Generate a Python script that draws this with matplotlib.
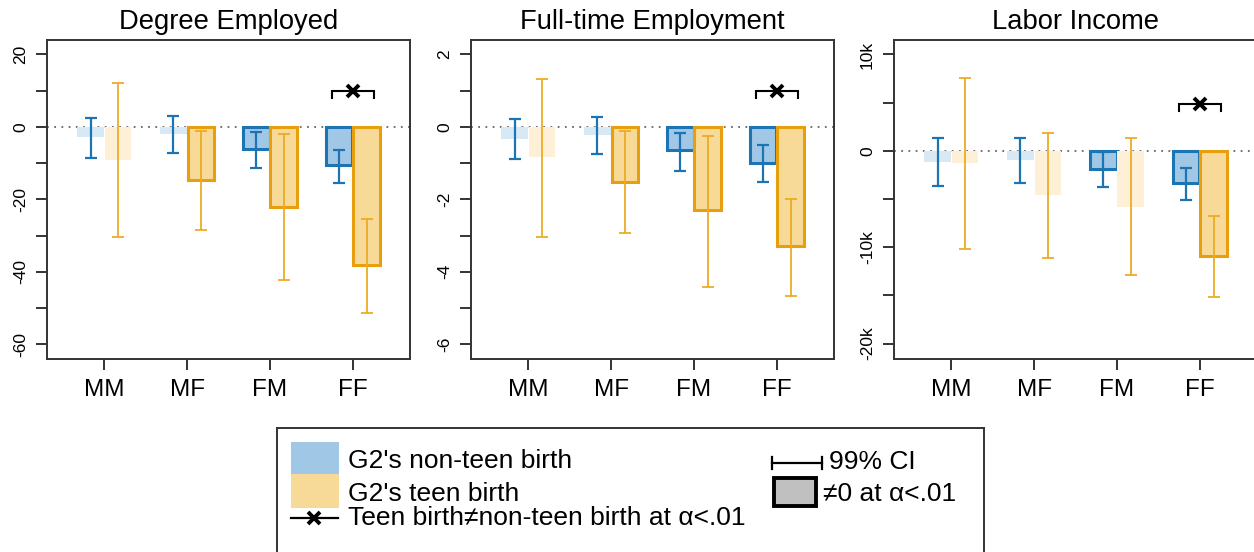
import matplotlib
matplotlib.use("Agg")
import matplotlib.pyplot as plt
import numpy as np
from matplotlib.patches import Rectangle

plt.rcParams['font.family'] = ['Liberation Sans', 'DejaVu Sans']
plt.rcParams['axes.unicode_minus'] = False

# ---------------- data ----------------
categories = ['MM', 'MF', 'FM', 'FF']
titles = ['Degree Employed', 'Full-time Employment', 'Labor Income']

# Degree Employed
deg_nonteen = [-2.85, -1.9, -6.2, -10.5]
deg_nonteen_lo = [-8.5, -7.3, -11.4, -15.6]
deg_nonteen_hi = [2.4, 3.1, -1.5, -6.3]
deg_teen = [-9.1, -14.6, -22.0, -38.1]
deg_teen_lo = [-30.3, -28.4, -42.2, -51.3]
deg_teen_hi = [12.05, -1.0, -1.9, -25.4]

# Full-time Employment
ft_nonteen = [-0.34, -0.22, -0.65, -1.01]
ft_nonteen_lo = [-0.89, -0.76, -1.22, -1.53]
ft_nonteen_hi = [0.22, 0.28, -0.16, -0.51]
ft_teen = [-0.84, -1.51, -2.29, -3.30]
ft_teen_lo = [-3.03, -2.94, -4.41, -4.66]
ft_teen_hi = [1.32, -0.11, -0.24, -1.99]

# Labor Income
inc_nonteen = [-1200, -1000, -1900, -3300]
inc_nonteen_lo = [-3600, -3300, -3800, -5100]
inc_nonteen_hi = [1300, 1300, -100, -1800]
inc_teen = [-1300, -4600, -5800, -10900]
inc_teen_lo = [-10200, -11100, -12900, -15200]
inc_teen_hi = [7600, 1900, 1300, -6800]

# teen vs non-teen difference significant
diff_sig = [False, False, False, True]
bracket_level = [10, 1.0, 4900]

# axis settings
ylims = [(-64.1, 24.0), (-6.41, 2.40), (-21600, 11500)]
ytick_vals = [[20, 10, 0, -10, -20, -30, -40, -50, -60],
              [2, 1, 0, -1, -2, -3, -4, -5, -6],
              [10000, 5000, 0, -5000, -10000, -15000, -20000]]
ytick_labels = [['20', '', '0', '', '-20', '', '-40', '', '-60'],
                ['2', '', '0', '', '-2', '', '-4', '', '-6'],
                ['10k', '', '0', '', '-10k', '', '-20k']]

panels = [
    (deg_nonteen, deg_nonteen_lo, deg_nonteen_hi, deg_teen, deg_teen_lo, deg_teen_hi),
    (ft_nonteen, ft_nonteen_lo, ft_nonteen_hi, ft_teen, ft_teen_lo, ft_teen_hi),
    (inc_nonteen, inc_nonteen_lo, inc_nonteen_hi, inc_teen, inc_teen_lo, inc_teen_hi),
]

# ---------------- style ----------------
BLUE_EDGE = '#1c75b2'
BLUE_FILL = '#a0c8e6'
BLUE_FADE = '#d8e9f6'
ORANGE_EDGE = '#e89f0e'
ORANGE_FILL = '#f8da98'
ORANGE_FADE = '#fdf0d6'
ORANGE_ERR = '#eeab25'
AX_COL = '#333333'

W, H = 1254, 552
fig = plt.figure(figsize=(W / 100, H / 100), dpi=100)

panel_left = [47, 471, 894]
panel_w = [363, 363, 372]
px_per_unit = 82.9
ax_top, ax_bot = 40, 359

width = 0.32
off = 0.165
x = np.arange(1, len(categories) + 1)

for i, (nt, ntlo, nthi, tt, ttlo, tthi) in enumerate(panels):
    ax = fig.add_axes([panel_left[i] / W, 1 - ax_bot / H, panel_w[i] / W, (ax_bot - ax_top) / H])
    nt = np.array(nt, float); ntlo = np.array(ntlo, float); nthi = np.array(nthi, float)
    tt = np.array(tt, float); ttlo = np.array(ttlo, float); tthi = np.array(tthi, float)
    nt_sig = (nthi < 0) | (ntlo > 0)
    tt_sig = (tthi < 0) | (ttlo > 0)

    ax.axhline(0, color='#666666', lw=1.3, ls=(0, (1, 3)), zorder=1)

    for j in range(len(categories)):
        if nt_sig[j]:
            ax.bar(x[j] - off, nt[j], width, color=BLUE_FILL, edgecolor=BLUE_EDGE, linewidth=2.2, zorder=2)
        else:
            ax.bar(x[j] - off, nt[j], width, color=BLUE_FADE, linewidth=0, zorder=2)
        if tt_sig[j]:
            ax.bar(x[j] + off, tt[j], width, color=ORANGE_FILL, edgecolor=ORANGE_EDGE, linewidth=2.2, zorder=2)
        else:
            ax.bar(x[j] + off, tt[j], width, color=ORANGE_FADE, linewidth=0, zorder=2)

    ax.errorbar(x - off, nt, yerr=[nt - ntlo, nthi - nt], fmt='none', ecolor=BLUE_EDGE,
                elinewidth=1.6, capsize=4.3, capthick=1.6, zorder=3)
    ax.errorbar(x + off, tt, yerr=[tt - ttlo, tthi - tt], fmt='none', ecolor=ORANGE_ERR,
                elinewidth=1.3, capsize=4.3, capthick=1.3, zorder=3)

    yr = ylims[i][1] - ylims[i][0]
    for j in range(len(categories)):
        if diff_sig[j]:
            yb = bracket_level[i]
            d = 0.022 * yr
            ax.plot([x[j] - 0.255, x[j] - 0.255, x[j] + 0.255, x[j] + 0.255],
                    [yb - d, yb, yb, yb - d], color='black', lw=1.5, zorder=4,
                    solid_joinstyle='miter')
            ax.plot([x[j]], [yb], marker='x', color='black', ms=9, mew=2.8, zorder=5)

    ax.set_xlim(0.31, 0.31 + panel_w[i] / px_per_unit)
    ax.set_ylim(*ylims[i])
    ax.set_xticks(x)
    ax.set_xticklabels(categories, fontsize=17.5)
    ax.set_yticks(ytick_vals[i])
    ax.set_yticklabels(ytick_labels[i], fontsize=12.5, rotation=90, va='center')
    ax.tick_params(axis='both', direction='out', length=7.9, width=1.4, color=AX_COL)
    ax.tick_params(axis='y', pad=5.8)
    ax.tick_params(axis='x', pad=6.5)
    for s in ax.spines.values():
        s.set_color(AX_COL)
        s.set_linewidth(1.4)
    ax.set_title(titles[i], fontsize=19.7, pad=8, x=(363 / 2) / panel_w[i])

# ---------------- legend ----------------
lg = fig.add_axes([277 / W, 1 - 560 / H, (984 - 277) / W, (560 - 428) / H])
lg.set_xlim(277, 984)
lg.set_ylim(560, 428)
lg.set_xticks([]); lg.set_yticks([])
for s in lg.spines.values():
    s.set_color(AX_COL)
    s.set_linewidth(1.4)

fs = 19
lg.add_patch(Rectangle((291, 442), 48, 32, facecolor=BLUE_FILL, edgecolor='none'))
lg.add_patch(Rectangle((291, 474), 48, 34, facecolor=ORANGE_FILL, edgecolor='none'))
lg.text(348, 461, "G2's non-teen birth", fontsize=fs, va='center', ha='left')
lg.text(348, 494, "G2's teen birth", fontsize=fs, va='center', ha='left')
lg.plot([291, 338], [518, 518], color='black', lw=1.6)
lg.plot([314], [518], marker='x', color='black', ms=9, mew=2.8)
lg.text(348, 518, "Teen birth\u2260non-teen birth at \u03b1<.01", fontsize=fs, va='center', ha='left')

lg.plot([772, 822], [463, 463], color='black', lw=1.6)
lg.plot([772, 772], [457, 469], color='black', lw=1.6)
lg.plot([822, 822], [457, 469], color='black', lw=1.6)
lg.text(829, 462, "99% CI", fontsize=fs, va='center', ha='left')
lg.add_patch(Rectangle((774, 478), 42, 28, facecolor='#c0c0c0', edgecolor='black', lw=2.8))
lg.text(823, 494, "\u22600 at \u03b1<.01", fontsize=fs, va='center', ha='left')

fig.savefig('out.png', dpi=100)
